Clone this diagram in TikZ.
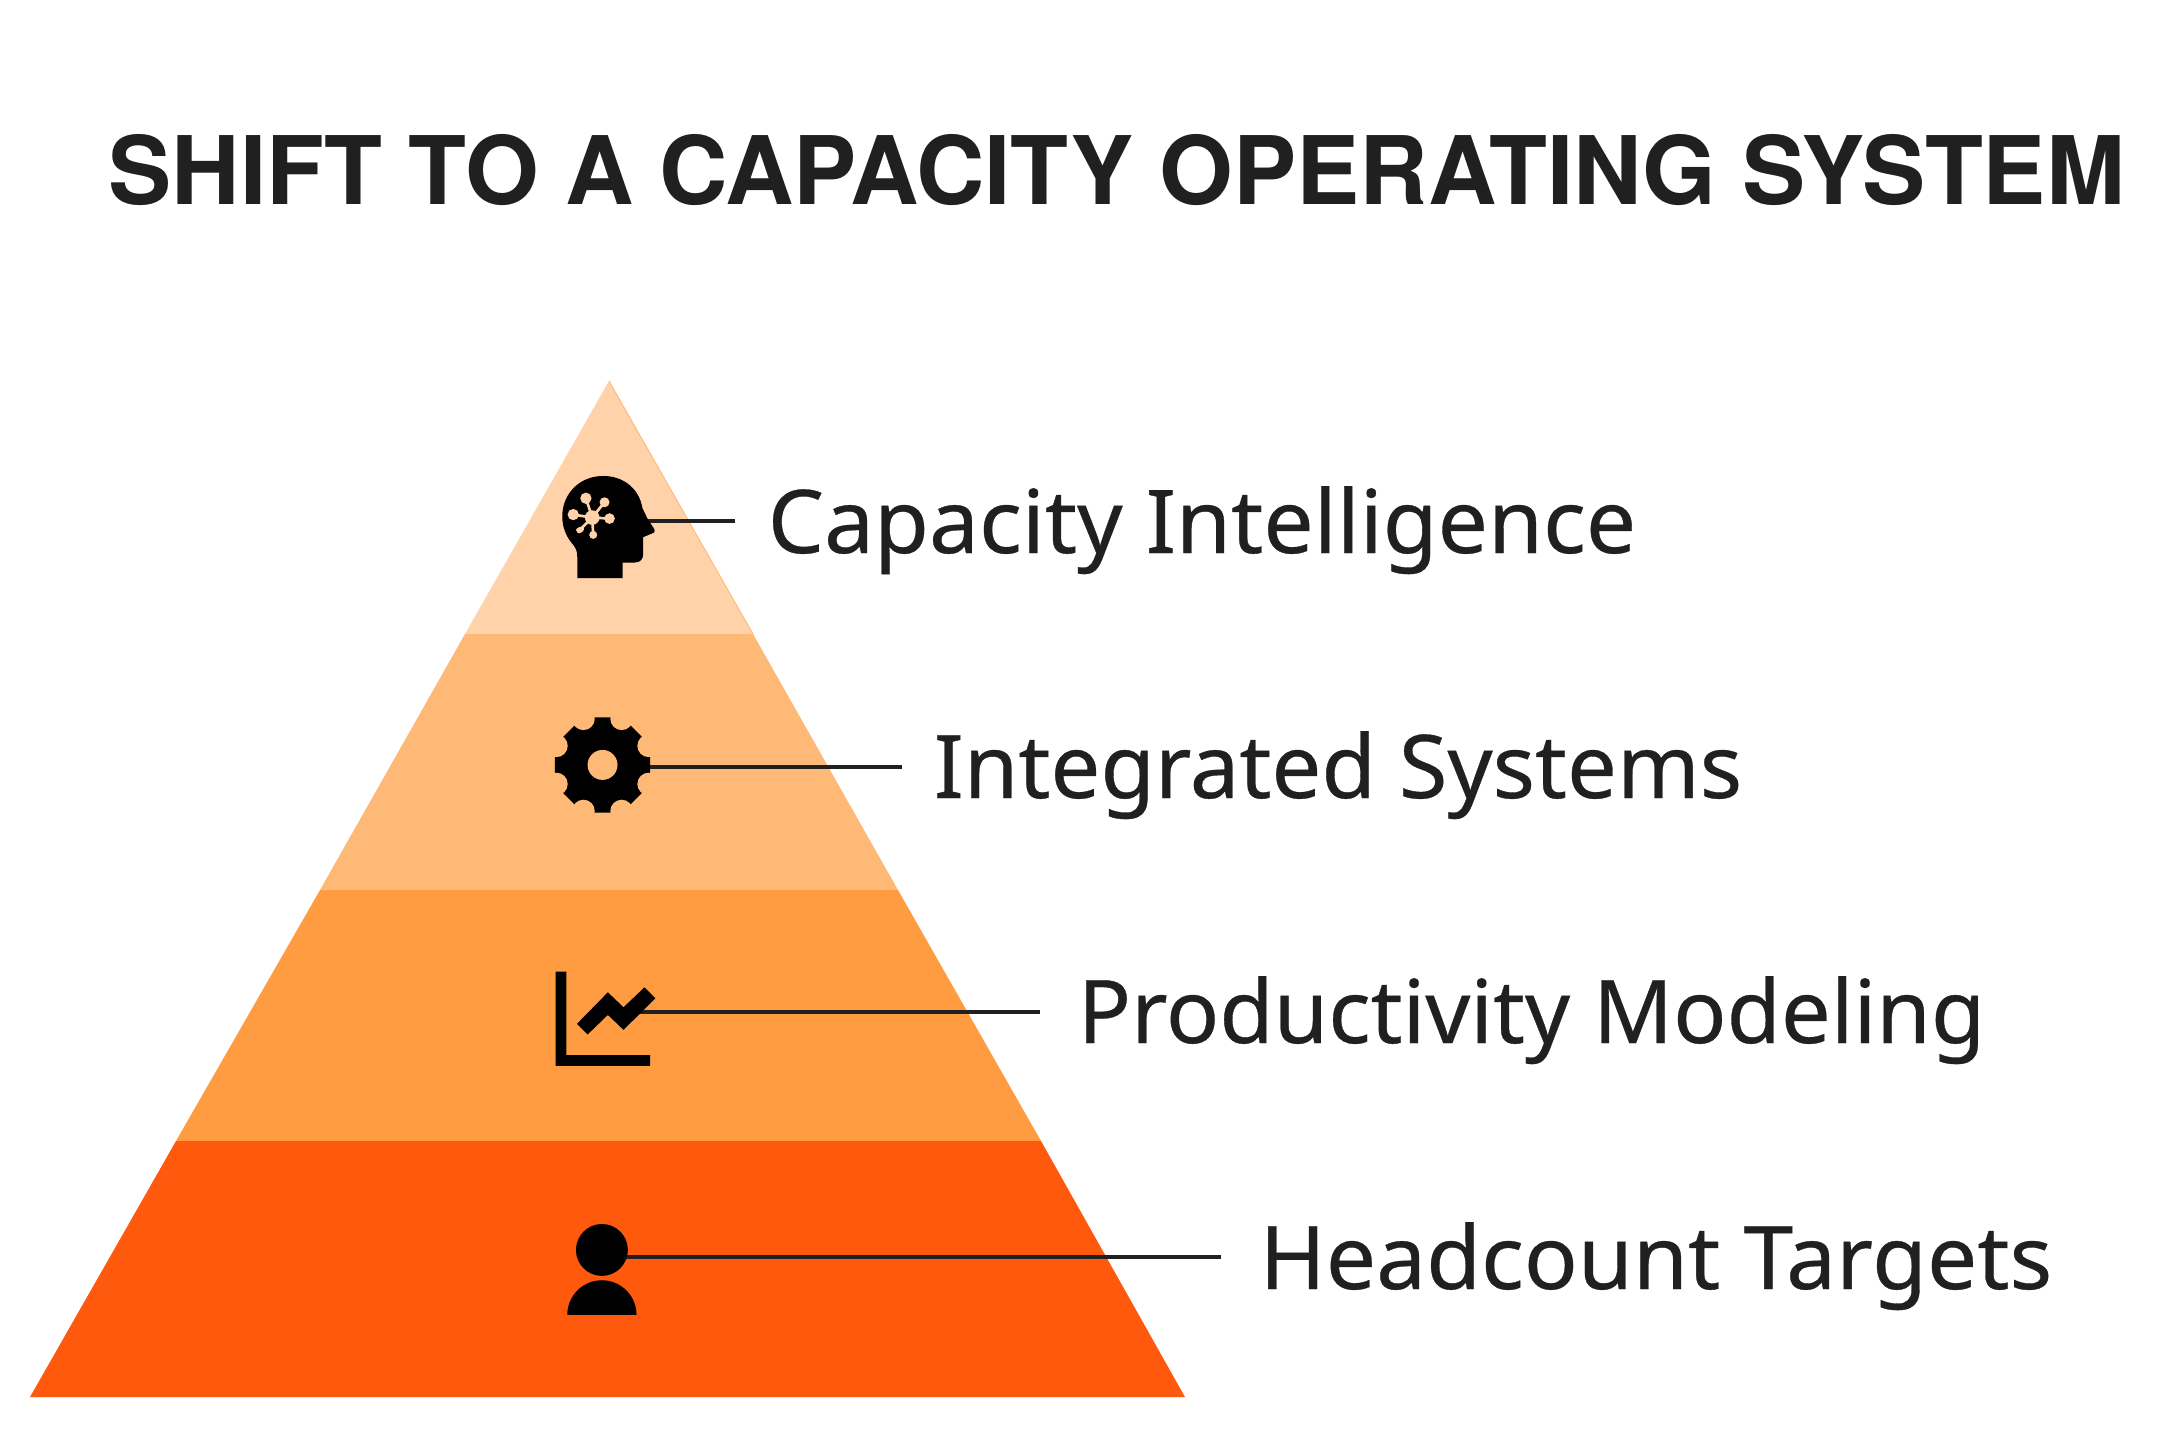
\documentclass[tikz,border=0pt]{standalone}
\usepackage{fontspec}
\usepackage{graphicx}
\usetikzlibrary{calc}
\setmainfont{Noto Sans}[FakeBold=0.35]
\newfontfamily\titlefont{TeX Gyre Heros}
\definecolor{bandA}{HTML}{FFD2A9}
\definecolor{bandB}{HTML}{FFB977}
\definecolor{bandC}{HTML}{FF9C42}
\definecolor{bandD}{HTML}{FE590D}
\definecolor{inkc}{HTML}{202020}
\newcommand{\fitw}[2]{\resizebox{#1cm}{\height}{#2}}
\tikzset{
  labeltext/.style={anchor=base west,inner sep=0pt,text=inkc,font=\fontsize{25pt}{27pt}\selectfont},
  leader/.style={draw=inkc,line width=0.9pt},
  zoomA/.style={shift={(520,450)},x=.0033333cm,y=-.0033333cm},
  zoomB/.style={shift={(520,700)},x=.0033333cm,y=-.0033333cm},
  zoomC/.style={shift={(520,950)},x=.0033333cm,y=-.0033333cm},
  zoomD/.style={shift={(540,1200)},x=.0033333cm,y=-.0033333cm},
}
\begin{document}
\begin{tikzpicture}[x=0.01cm,y=-0.01cm]
\useasboundingbox (0,0) rectangle (2180,1454);
\fill[white] (0,0) rectangle (2180,1454);
% pyramid bands
\fill[bandA] (609,381) -- (753,634) -- (465,634) -- cycle;
\draw[bandB,line width=0.25pt] (609,381) -- (753,634);
\fill[bandB] (465,634) -- (753,634) -- (898,890) -- (320,890) -- cycle;
\fill[bandC] (320,890) -- (898,890) -- (1041,1141) -- (176,1141) -- cycle;
\fill[bandD] (176,1141) -- (1041,1141) -- (1185,1397) -- (30,1397) -- cycle;
% title
\node[anchor=base west,inner sep=0pt,text=inkc,font=\fontsize{26.9pt}{30pt}\selectfont\titlefont\bfseries] (title) at (108,204) {\fitw{20.15}{SHIFT TO A CAPACITY OPERATING SYSTEM}};
% labels
\node[labeltext] (l1) at (767,553) {\fitw{8.68}{Capacity Intelligence}};
\node[labeltext] (l2) at (933,798) {\fitw{8.08}{Integrated Systems}};
\node[labeltext] (l3) at (1077,1043) {\fitw{9.07}{Productivity Modeling}};
\node[labeltext] (l4) at (1259,1289) {\fitw{7.92}{Headcount Targets}};
% connector ends
\coordinate (c1) at (648,521);
\coordinate (e1) at (735,521);
\coordinate (c2) at (650,767);
\coordinate (e2) at (902,767);
\coordinate (c3) at (603,1012);
\coordinate (e3) at (1040,1012);
\coordinate (c4) at (620,1257);
\coordinate (e4) at (1221,1257);
\draw[leader] (c1) -- (e1);
\draw[leader] (c2) -- (e2);
\draw[leader] (c3) -- (e3);
\draw[leader] (c4) -- (e4);
% head icon
\begin{scope}[zoomA]
\fill[black] (172,385) -- (308,385) -- (308,338) -- (345,338) .. controls (362,338) and (370,328) .. (370,312) -- (370,262) -- (403,248) .. controls (407,245) and (405,238) .. (400,232) -- (385,210) -- (368,175) .. controls (358,115) and (310,78) .. (250,78) .. controls (180,78) and (127,130) .. (127,200) .. controls (127,240) and (145,268) .. (160,285) .. controls (168,295) and (172,305) .. (172,320) -- cycle;
\fill[bandA] (217,203) circle (22) (198,145) circle (17) (160,194) circle (17) (254,157) circle (15) (269,206) circle (16) (220,255) circle (12);
\fill[bandA] (168,240) .. controls (172,232) and (185,228) .. (192,232) .. controls (196,242) and (182,252) .. (174,250) -- cycle;
\draw[bandA,line width=0.75pt] (217,203) -- (198,145) (217,203) -- (160,194) (217,203) -- (254,157) (217,203) -- (269,206) (217,203) -- (180,240) (217,203) -- (220,255);
\end{scope}
% gear icon
\begin{scope}[zoomB]
\fill[black] ($(248,195)+(22.5:155)$) foreach \a in {67.5,112.5,...,337.5} { -- ($(248,195)+(\a:155)$) } -- cycle;
\foreach \a in {22.5,67.5,...,337.5} { \fill[bandB] ($(248,195)+(\a:150)$) circle (34); }
\fill[bandB] (248,195) circle (45);
\end{scope}
% chart icon
\begin{scope}[zoomC]
\fill[black] (107,65) -- (139,65) -- (139,316) -- (391,316) -- (391,348) -- (107,348) -- cycle;
\fill[black] (171,222) -- (264,127) -- (311,172) -- (374,112) -- (407,145) -- (311,240) -- (264,195) -- (203,254) -- cycle;
\end{scope}
% person icon
\begin{scope}[zoomD]
\fill[black] (186,150) circle (78);
\fill[black] (82,345) arc (180:360:104) -- cycle;
\end{scope}
\end{tikzpicture}
\end{document}
